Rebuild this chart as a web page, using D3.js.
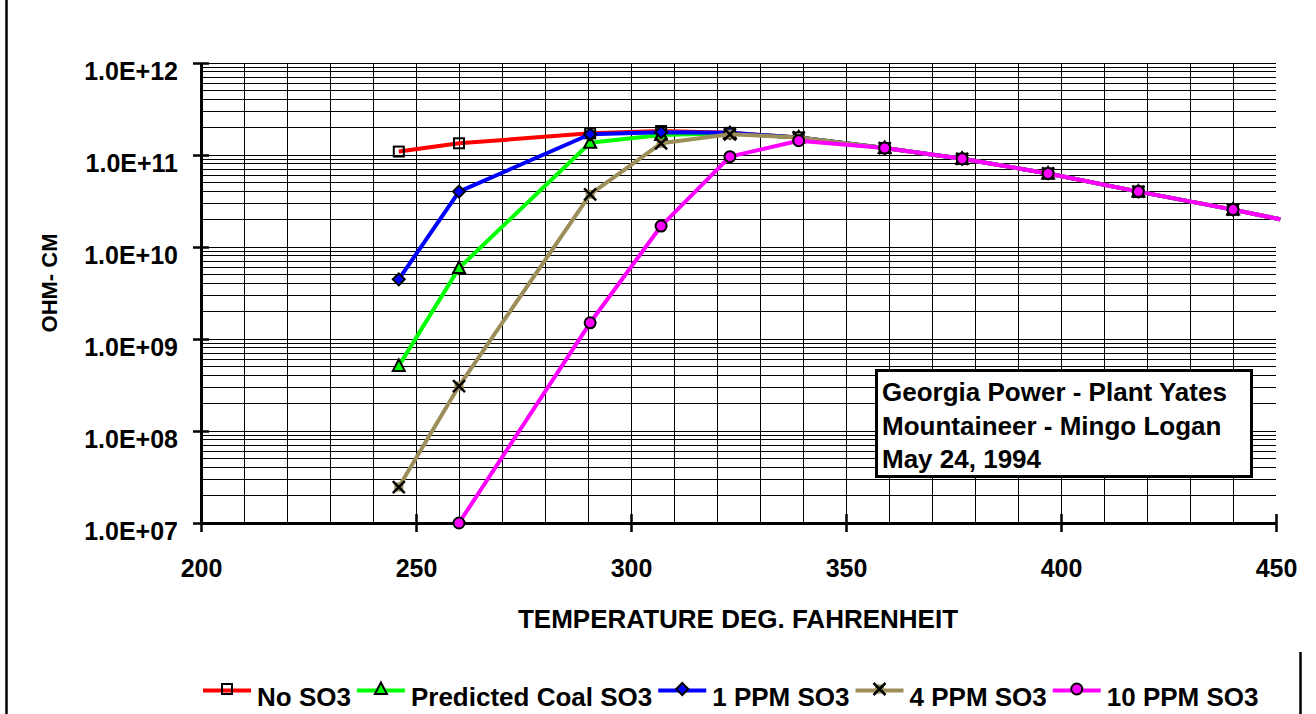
<!DOCTYPE html>
<html>
<head>
    <title>Resistivity vs Temperature</title>
    <script src="https://d3js.org/d3.v7.min.js"></script>
    <style>
        body { margin: 0; background-color: #FFFFFF; }
        text { font-family: Arial, "Liberation Sans", sans-serif; font-weight: bold; fill: #000; }
    </style>
</head>
<body>
    <div id="chart"></div>

    <script>
        // Temperatures (deg F) shared by all series; last one has no marker
        var temps = [246, 260, 290.5, 307, 323, 339, 359, 377, 397, 418, 440, 451];

        // Resistivity (ohm-cm) per series
        var noSO3     = [1.09e11, 1.34e11, 1.72e11, 1.82e11, 1.74e11, 1.55e11, 1.19e11, 9.1e10, 6.3e10, 4.0e10, 2.55e10, 2.0e10];
        var predicted = [5.1e8,   5.9e9,   1.36e11, 1.65e11, 1.72e11, 1.55e11, 1.19e11, 9.1e10, 6.3e10, 4.0e10, 2.55e10, 2.0e10];
        var ppm1      = [4.45e9,  4.0e10,  1.68e11, 1.77e11, 1.74e11, 1.55e11, 1.19e11, 9.1e10, 6.3e10, 4.0e10, 2.55e10, 2.0e10];
        var ppm4      = [2.46e7,  3.08e8,  3.74e10, 1.34e11, 1.68e11, 1.55e11, 1.19e11, 9.1e10, 6.3e10, 4.0e10, 2.55e10, 2.0e10];
        var ppm10     = [null,    1.0e7,   1.5e9,   1.69e10, 9.6e10,  1.43e11, 1.19e11, 9.1e10, 6.3e10, 4.0e10, 2.55e10, 2.0e10];

        var seriesNames = ["No SO3", "Predicted Coal SO3", "1 PPM SO3", "4 PPM SO3", "10 PPM SO3"];
        var seriesValues = [noSO3, predicted, ppm1, ppm4, ppm10];
        var seriesColors = ["#FF0000", "#00FF00", "#0000FF", "#9C8E58", "#FF00FF"];
        var seriesMarkers = ["square", "triangle", "diamond", "cross", "circle"];

        var xTicks = [200, 250, 300, 350, 400, 450];
        var yTicks = [1e7, 1e8, 1e9, 1e10, 1e11, 1e12];

        var noteLines = ["Georgia Power - Plant Yates", "Mountaineer - Mingo Logan", "May 24, 1994"];

        var width = 1316, height = 714;

        var svg = d3.select("#chart")
            .append("svg")
            .attr("width", width)
            .attr("height", height);

        // Chart frame (only the sides fall inside the view)
        svg.append("line")
            .attr("x1", 6.5).attr("x2", 6.5)
            .attr("y1", 0).attr("y2", height)
            .attr("stroke", "#000").attr("stroke-width", 2.5);
        svg.append("line")
            .attr("x1", 1300.5).attr("x2", 1300.5)
            .attr("y1", 652).attr("y2", height)
            .attr("stroke", "#000").attr("stroke-width", 2.5);

        // Scales
        var x = d3.scaleLinear().domain([200, 450]).range([201, 1276]);
        var y = d3.scaleLog().domain([1e7, 1e12]).range([523, 63]);

        // Grid
        var grid = svg.append("g")
            .attr("stroke", "#000").attr("stroke-width", 1)
            .attr("shape-rendering", "crispEdges");
        var xGrid = d3.range(210, 450, 10);
        grid.selectAll(".vg")
            .data(xGrid)
            .enter().append("line")
            .attr("x1", function(d) { return x(d); })
            .attr("x2", function(d) { return x(d); })
            .attr("y1", y(1e12)).attr("y2", y(1e7));

        var yGrid = [];
        for (var e = 7; e < 12; e++) {
            for (var m = 1; m < 10; m++) yGrid.push(m * Math.pow(10, e));
        }
        yGrid.push(1e12);
        grid.selectAll(".hg")
            .data(yGrid)
            .enter().append("line")
            .attr("x1", x(200)).attr("x2", x(450))
            .attr("y1", function(d) { return y(d); })
            .attr("y2", function(d) { return y(d); });

        // Axes
        var fmt = function(d) {
            return "1.0E+" + String(Math.round(Math.log10(d))).padStart(2, "0");
        };

        var yAxis = svg.append("g")
            .attr("transform", "translate(" + x(200) + ",0)")
            .call(d3.axisLeft(y).tickValues(yTicks).tickFormat(fmt).tickSizeOuter(0).tickSizeInner(8));
        yAxis.select(".domain").attr("stroke", "#000").attr("stroke-width", 3);
        yAxis.selectAll(".tick line").attr("x1", 8).attr("x2", -8).attr("stroke-width", 2.5);
        yAxis.selectAll(".tick text")
            .attr("x", -23).attr("dy", null).attr("y", 16.5)
            .style("font-size", "25px").style("font-family", "Arial, 'Liberation Sans', sans-serif")
            .style("font-weight", "bold");

        var xAxis = svg.append("g")
            .attr("transform", "translate(0," + y(1e7) + ")")
            .call(d3.axisBottom(x).tickValues(xTicks).tickFormat(d3.format("d")).tickSizeOuter(0).tickSizeInner(9));
        xAxis.select(".domain").attr("stroke", "#000").attr("stroke-width", 3);
        xAxis.selectAll(".tick line")
            .attr("y1", function(d) { return d === 200 ? 0 : -9; })
            .attr("y2", 9).attr("stroke-width", 2.5);
        xAxis.selectAll(".tick text")
            .attr("dy", null).attr("y", 54)
            .style("font-size", "25px").style("font-family", "Arial, 'Liberation Sans', sans-serif")
            .style("font-weight", "bold");

        // Axis titles
        svg.append("text")
            .attr("x", 738).attr("y", 628)
            .attr("text-anchor", "middle")
            .style("font-size", "26px")
            .text("TEMPERATURE DEG. FAHRENHEIT");

        svg.append("text")
            .attr("transform", "translate(57,283) rotate(-90)")
            .attr("text-anchor", "middle")
            .style("font-size", "22px")
            .text("OHM- CM");

        // Markers
        function drawMarker(g, type, cx, cy, color) {
            if (type === "square") {
                g.append("rect")
                    .attr("x", cx - 5).attr("y", cy - 5)
                    .attr("width", 10).attr("height", 10)
                    .attr("fill", "none").attr("stroke", "#000").attr("stroke-width", 2);
            } else if (type === "triangle") {
                g.append("path")
                    .attr("d", "M" + cx + "," + (cy - 6.5) + "L" + (cx + 6) + "," + (cy + 5) + "L" + (cx - 6) + "," + (cy + 5) + "Z")
                    .attr("fill", color).attr("stroke", "#000").attr("stroke-width", 2);
            } else if (type === "diamond") {
                g.append("path")
                    .attr("d", "M" + cx + "," + (cy - 6) + "L" + (cx + 6) + "," + cy + "L" + cx + "," + (cy + 6) + "L" + (cx - 6) + "," + cy + "Z")
                    .attr("fill", color).attr("stroke", "#000").attr("stroke-width", 2);
            } else if (type === "cross") {
                g.append("rect")
                    .attr("x", cx - 4.5).attr("y", cy - 4.5)
                    .attr("width", 9).attr("height", 9)
                    .attr("fill", color);
                g.append("path")
                    .attr("d", "M" + (cx - 6) + "," + (cy - 6) + "L" + (cx + 6) + "," + (cy + 6) + "M" + (cx + 6) + "," + (cy - 6) + "L" + (cx - 6) + "," + (cy + 6))
                    .attr("stroke", "#000").attr("stroke-width", 2.5);
            } else if (type === "circle") {
                g.append("circle")
                    .attr("cx", cx).attr("cy", cy).attr("r", 5.5)
                    .attr("fill", color).attr("stroke", "#000").attr("stroke-width", 2);
            }
        }

        // Series lines + markers
        var line = d3.line()
            .defined(function(d) { return d.v != null; })
            .x(function(d) { return x(d.t); })
            .y(function(d) { return y(d.v); });

        seriesValues.forEach(function(vals, i) {
            var pts = temps.map(function(t, j) { return { t: t, v: vals[j] }; });
            var g = svg.append("g");
            g.append("path")
                .datum(pts)
                .attr("d", line)
                .attr("fill", "none")
                .attr("stroke", seriesColors[i])
                .attr("stroke-width", 4)
                .attr("stroke-linejoin", "round");
            pts.forEach(function(p) {
                if (p.v == null || p.t > 450) return;
                drawMarker(g, seriesMarkers[i], x(p.t), y(p.v), seriesColors[i]);
            });
        });

        // Note box
        var note = svg.append("g");
        note.append("rect")
            .attr("x", 876.5).attr("y", 370.5)
            .attr("width", 375).attr("height", 106)
            .attr("fill", "#FFF").attr("stroke", "#000").attr("stroke-width", 3);
        note.selectAll("text")
            .data(noteLines)
            .enter().append("text")
            .attr("x", 882)
            .attr("y", function(d, i) { return 401 + i * 33.5; })
            .style("font-size", "26px")
            .text(function(d) { return d; });

        // Legend
        var legend = svg.append("g");
        var lx = 203, ly = 690.5;
        seriesNames.forEach(function(name, i) {
            legend.append("line")
                .attr("x1", lx).attr("x2", lx + 48)
                .attr("y1", ly).attr("y2", ly)
                .attr("stroke", seriesColors[i]).attr("stroke-width", 4);
            drawMarker(legend, seriesMarkers[i], lx + 24, ly - 1.5, seriesColors[i]);
            var t = legend.append("text")
                .attr("x", lx + 54).attr("y", 706)
                .style("font-size", "26px")
                .text(name);
            lx = lx + 54 + t.node().getComputedTextLength() + 6;
        });
    </script>
</body>
</html>
